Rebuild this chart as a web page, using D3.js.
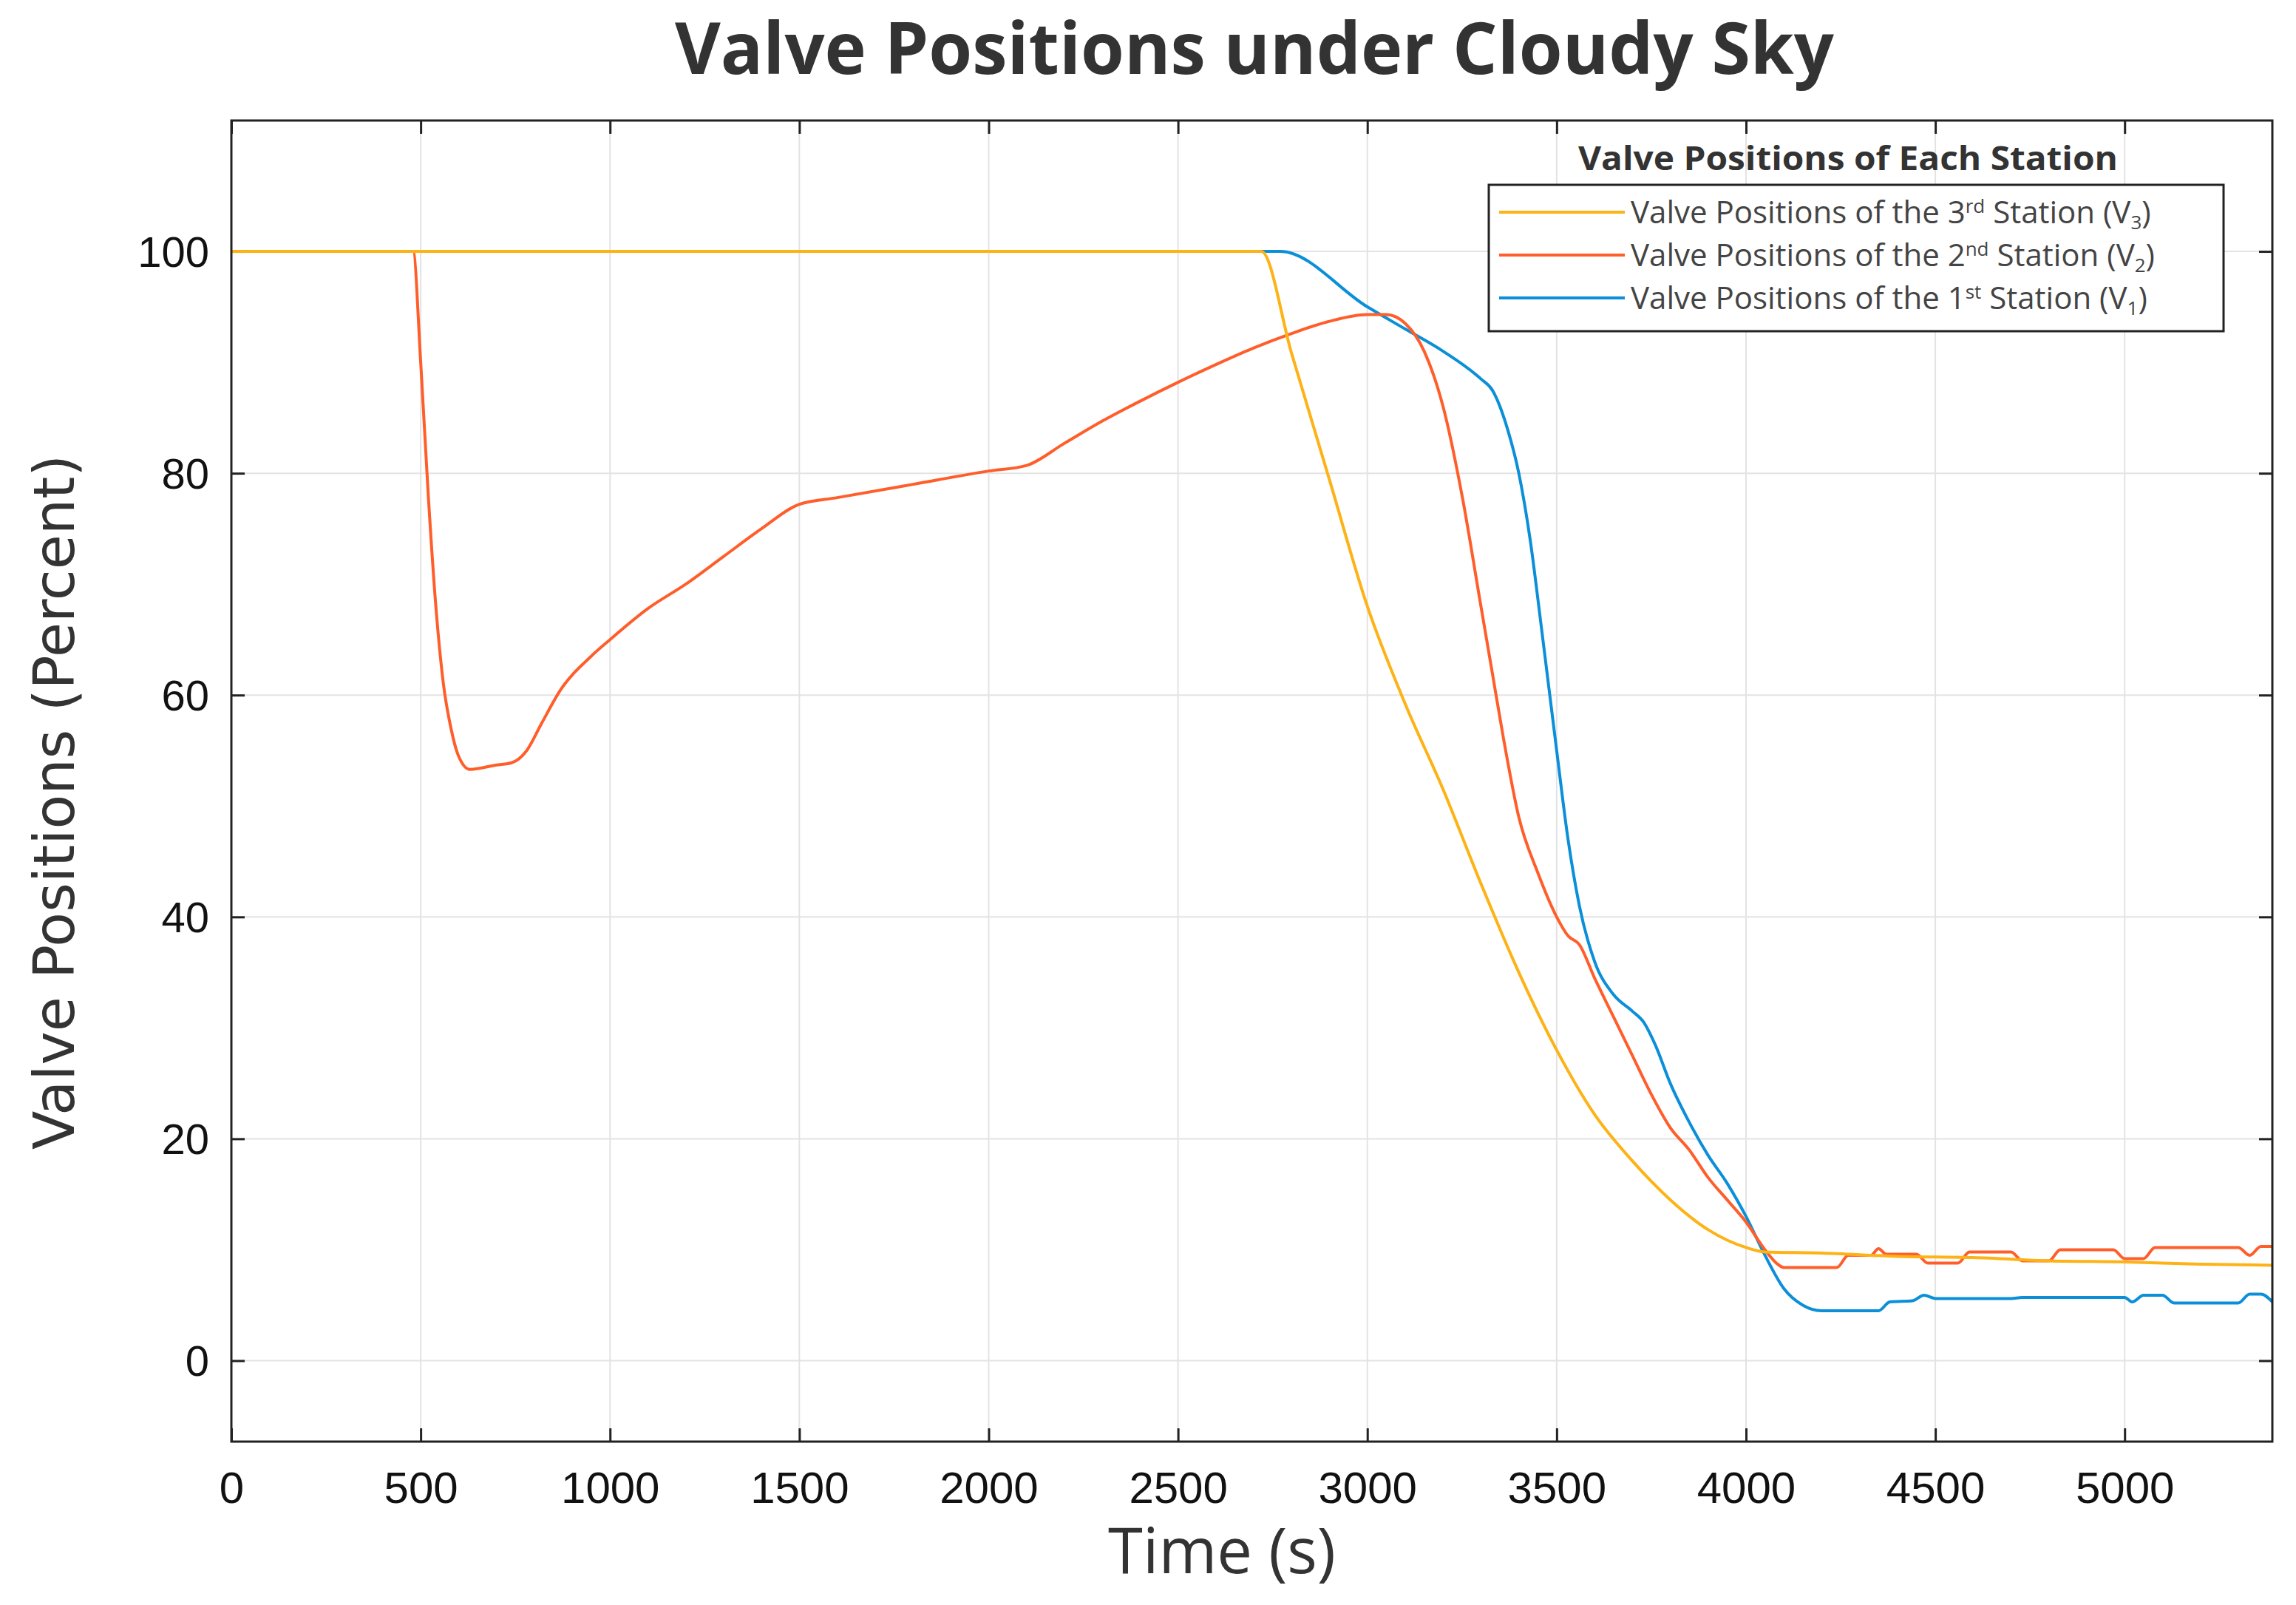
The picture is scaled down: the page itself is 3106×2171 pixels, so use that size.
<!DOCTYPE html>
<html><head><meta charset="utf-8">
<script src="https://cdn.jsdelivr.net/npm/d3@7"></script>
<style>body{margin:0;background:#fff}</style></head>
<body><svg id="c" width="3106" height="2171"></svg>
<script>
const xTicks=[0,500,1000,1500,2000,2500,3000,3500,4000,4500,5000];
const yTicks=[0,20,40,60,80,100];
const v3T=[0,2720,2800,2900,3000,3100,3200,3300,3400,3500,3600,3700,3800,3900,4000,4050,4200,4400,4600,4800,5000,5200,5390];
const v3V=[100,100,90.8,79.4,68,59.2,51.5,43,35,28,22.2,18,14.5,11.8,10.2,9.8,9.7,9.4,9.3,9.0,8.9,8.7,8.6];
const v2T=[0,480,500,520,540,560,580,600,630,700,740,780,820,870,950,1000,1100,1200,1300,1400,1500,1600,1800,2000,2100,2200,2300,2400,2500,2600,2700,2800,2900,3000,3050,3100,3150,3200,3250,3300,3330,3360,3400,3450,3500,3530,3560,3600,3650,3700,3750,3800,3850,3900,3950,4000,4050,4080,4100,4200,4240,4270,4330,4350,4370,4450,4480,4560,4590,4700,4730,4800,4830,4970,5000,5050,5080,5300,5330,5360,5390];
const v2V=[100,100,90,78,68,61,57,54.5,53.3,53.7,53.9,55,57.5,60.5,63.5,65,67.8,70,72.5,75,77.2,77.8,79,80.2,80.7,82.7,84.7,86.5,88.2,89.8,91.3,92.6,93.7,94.3,94.3,93.5,91,86,78,68,62,56,49,44,40,38.3,37.5,34.5,31,27.5,24,21,19,16.5,14.5,12.5,10,8.8,8.4,8.4,8.4,9.5,9.5,10.1,9.6,9.6,8.8,8.8,9.8,9.8,9.0,9.0,10.0,10.0,9.2,9.2,10.2,10.2,9.5,10.3,10.3];
const v1T=[0,2770,3000,3100,3200,3300,3330,3370,3400,3430,3460,3500,3530,3560,3600,3650,3700,3730,3760,3800,3850,3900,3950,4000,4050,4100,4150,4200,4350,4380,4440,4470,4500,4700,4730,5000,5020,5050,5100,5130,5300,5330,5360,5390];
const v1V=[100,100,95,93,91,88.5,87.5,84,80,74,66,55,47,41,36,33,31.5,30.5,28.5,25,21.5,18.5,16,13,9.5,6.5,5,4.5,4.5,5.3,5.4,5.9,5.6,5.6,5.7,5.7,5.3,5.9,5.9,5.2,5.2,6.0,6.0,5.3];
const seriesNames=["Valve Positions of the 3","Valve Positions of the 2","Valve Positions of the 1"];
const seriesSup=["rd","nd","st"];const seriesSub=["3","2","1"];
const colors=["#FDB215","#FF5E2B","#0A8FD8"];

const L=313,R=3074,T=163,B=1950;
const svg=d3.select("#c");
const x=d3.scaleLinear().domain([0,5390]).range([L,R]);
const y=d3.scaleLinear().domain([-7.3,111.8]).range([B,T]);
const g=svg.append("g");
g.selectAll(".gx").data(xTicks).join("line").attr("x1",d=>x(d)).attr("x2",d=>x(d)).attr("y1",T).attr("y2",B).attr("stroke","#e3e3e3").attr("stroke-width",2);
g.selectAll(".gy").data(yTicks).join("line").attr("y1",d=>y(d)).attr("y2",d=>y(d)).attr("x1",L).attr("x2",R).attr("stroke","#e3e3e3").attr("stroke-width",2);
const ax=g.append("g").attr("transform",`translate(0,${B})`).call(d3.axisBottom(x).tickValues(xTicks).tickSize(-18).tickPadding(40).tickFormat(d3.format("d")));
const ay=g.append("g").attr("transform",`translate(${L},0)`).call(d3.axisLeft(y).tickValues(yTicks).tickSize(-18).tickPadding(30).tickFormat(d3.format("d")));
g.append("g").attr("transform",`translate(0,${T})`).call(d3.axisTop(x).tickValues(xTicks).tickSize(-18).tickFormat(""));
g.append("g").attr("transform",`translate(${R},0)`).call(d3.axisRight(y).tickValues(yTicks).tickSize(-18).tickFormat(""));
g.selectAll(".domain").remove();
g.selectAll(".tick line").attr("stroke","#222").attr("stroke-width",3);
g.selectAll(".tick text").attr("font-family","Liberation Sans, Arial").attr("fill","#111");
ax.selectAll(".tick text").attr("font-size",60);
ay.selectAll(".tick text").attr("font-size",58).attr("dy","0.35em");
const line=d3.line().x(d=>x(d[0])).y(d=>y(d[1])).curve(d3.curveMonotoneX);
const data=[[v3T,v3V],[v2T,v2V],[v1T,v1V]];
svg.append("clipPath").attr("id","cp").append("rect").attr("x",L).attr("y",T).attr("width",R-L).attr("height",B-T);
[2,1,0].forEach(i=>{
  const pts=data[i][0].map((t,k)=>[t,data[i][1][k]]);
  g.append("path").attr("d",line(pts)).attr("fill","none").attr("stroke",colors[i]).attr("stroke-width",4).attr("clip-path","url(#cp)");
});
g.append("rect").attr("x",L).attr("y",T).attr("width",R-L).attr("height",B-T).attr("fill","none").attr("stroke","#222").attr("stroke-width",3);
svg.append("text").attr("x",1697).attr("y",100).attr("text-anchor","middle").attr("font-family","Open Sans").attr("font-weight","bold").attr("font-size",96).attr("fill","#333").attr("textLength",1568).attr("lengthAdjust","spacingAndGlyphs").text("Valve Positions under Cloudy Sky");
svg.append("text").attr("x",1653).attr("y",2128).attr("text-anchor","middle").attr("font-family","Open Sans").attr("font-size",86).attr("fill","#333").attr("textLength",308).attr("lengthAdjust","spacingAndGlyphs").text("Time (s)");
svg.append("text").attr("transform","translate(100,1085) rotate(-90)").attr("text-anchor","middle").attr("font-family","DejaVu Sans").attr("font-size",76).attr("fill","#333").attr("textLength",940).attr("lengthAdjust","spacingAndGlyphs").text("Valve Positions (Percent)");
svg.append("text").attr("x",2500).attr("y",230).attr("text-anchor","middle").attr("font-family","Open Sans").attr("font-weight","bold").attr("font-size",44).attr("fill","#333").attr("textLength",730).attr("lengthAdjust","spacingAndGlyphs").text("Valve Positions of Each Station");
svg.append("rect").attr("x",2014).attr("y",250).attr("width",994).attr("height",198).attr("fill","#fff").attr("stroke","#222").attr("stroke-width",3);
seriesNames.forEach((n,i)=>{
  const yy=287+i*58;
  svg.append("line").attr("x1",2028).attr("x2",2198).attr("y1",yy).attr("y2",yy).attr("stroke",colors[i]).attr("stroke-width",4);
  const t=svg.append("text").attr("x",2206).attr("y",yy+15).attr("font-family","Open Sans").attr("font-size",42).attr("fill","#444");
  t.append("tspan").text(n);
  t.append("tspan").attr("dy",-14).attr("font-size",26).text(seriesSup[i]);
  t.append("tspan").attr("dy",14).text(" Station "+(i==2?" ":"")+"(V");
  t.append("tspan").attr("dy",8).attr("font-size",26).text(seriesSub[i]);
  t.append("tspan").attr("dy",-8).text(")");
});
</script></body></html>
